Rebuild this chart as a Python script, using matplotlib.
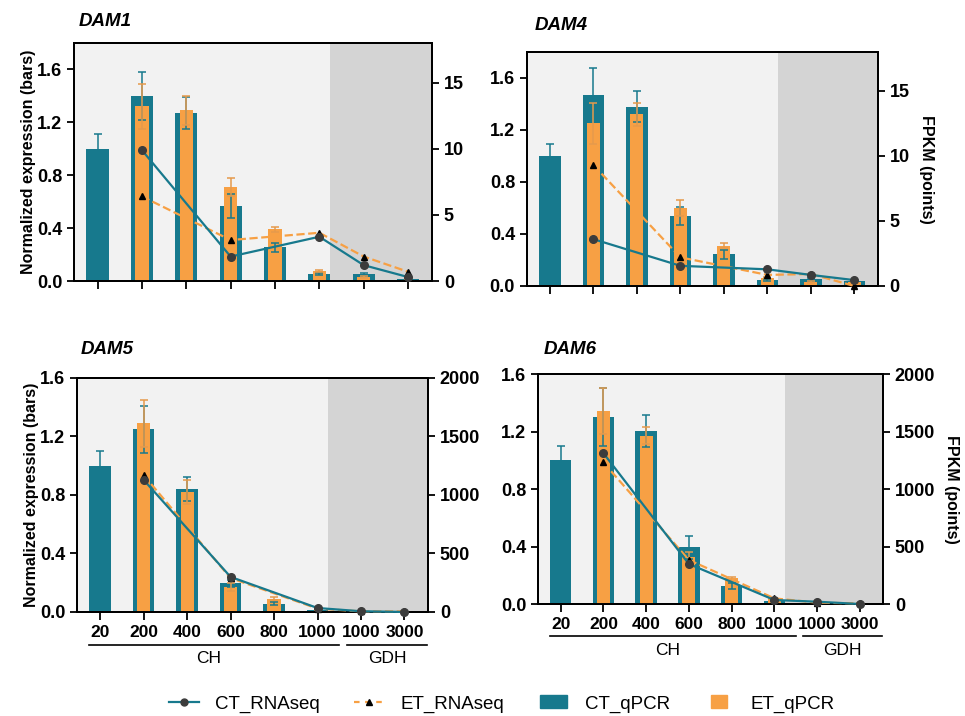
import matplotlib
matplotlib.use("Agg")
import matplotlib.pyplot as plt
import numpy as np
from matplotlib.lines import Line2D
from matplotlib.patches import Rectangle
from matplotlib.legend_handler import HandlerPatch

plt.rcParams['font.family'] = ['Liberation Sans', 'DejaVu Sans']

TEAL = '#17798d'
ORANGE = '#f7a044'

categories = ['20', '200', '400', '600', '800', '1000', '1000', '3000']
seq_idx = [1, 3, 5, 6, 7]   # samples with RNA-seq data

# DAM1
dam1_ct = [1.00, 1.40, 1.27, 0.57, 0.255, 0.053, 0.053, 0.015]
dam1_ct_err = [0.11, 0.18, 0.12, 0.09, 0.035, 0.005, 0.01, 0.005]
dam1_et = [np.nan, 1.32, 1.29, 0.71, 0.39, 0.075, 0.03, 0.01]
dam1_et_err = [np.nan, 0.17, 0.11, 0.07, 0.02, 0.005, 0.005, 0.003]
dam1_ct_seq = [9.9, 1.85, 3.35, 1.2, 0.3]
dam1_et_seq = [6.4, 3.1, 3.65, 1.85, 0.7]

# DAM4
dam4_ct = [1.00, 1.47, 1.38, 0.54, 0.245, 0.046, 0.05, 0.04]
dam4_ct_err = [0.09, 0.21, 0.12, 0.07, 0.035, 0.005, 0.01, 0.005]
dam4_et = [np.nan, 1.25, 1.32, 0.60, 0.31, 0.065, 0.03, 0.03]
dam4_et_err = [np.nan, 0.16, 0.09, 0.06, 0.02, 0.005, 0.005, 0.003]
dam4_ct_seq = [3.6, 1.55, 1.28, 0.85, 0.45]
dam4_et_seq = [9.3, 2.2, 0.85, 0.92, 0.0]

# DAM5
dam5_ct = [1.00, 1.25, 0.84, 0.195, 0.057, 0.016, 0.005, 0.005]
dam5_ct_err = [0.10, 0.16, 0.08, 0.025, 0.01, 0.003, 0.002, 0.002]
dam5_et = [np.nan, 1.29, 0.82, 0.17, 0.09, 0.006, 0.004, 0.004]
dam5_et_err = [np.nan, 0.16, 0.08, 0.03, 0.01, 0.002, 0.002, 0.002]
dam5_ct_seq = [1130, 300, 34, 6, 0]
dam5_et_seq = [1170, 290, 29, 5, 5]

# DAM6
dam6_ct = [1.00, 1.30, 1.205, 0.395, 0.125, 0.023, 0.005, 0.005]
dam6_ct_err = [0.10, 0.20, 0.11, 0.08, 0.02, 0.003, 0.002, 0.002]
dam6_et = [np.nan, 1.34, 1.17, 0.33, 0.18, 0.04, 0.006, 0.004]
dam6_et_err = [np.nan, 0.16, 0.06, 0.03, 0.01, 0.003, 0.002, 0.002]
dam6_ct_seq = [1312, 348, 35, 20, 0]
dam6_et_seq = [1231, 383, 49, 12, 5]

panels = [
    ('DAM1', dam1_ct, dam1_ct_err, dam1_et, dam1_et_err, dam1_ct_seq, dam1_et_seq,
     [0.0767, 0.6075, 0.371, 0.3324], (79, 22), 1.8, 18, [0, 5, 10, 15], True, None, False),
    ('DAM4', dam4_ct, dam4_ct_err, dam4_et, dam4_et_err, dam4_ct_seq, dam4_et_seq,
     [0.546, 0.6006, 0.3637, 0.3268], (535, 25), 1.8, 18, [0, 5, 10, 15], False, 1.16, False),
    ('DAM5', dam5_ct, dam5_ct_err, dam5_et, dam5_et_err, dam5_ct_seq, dam5_et_seq,
     [0.0798, 0.1453, 0.3637, 0.3268], (81, 349), 1.6, 2000, [0, 500, 1000, 1500, 2000], True, None, True),
    ('DAM6', dam6_ct, dam6_ct_err, dam6_et, dam6_et_err, dam6_ct_seq, dam6_et_seq,
     [0.5575, 0.1564, 0.3575, 0.3212], (544, 349), 1.6, 2000, [0, 500, 1000, 1500, 2000], False, 1.22, True),
]

fig = plt.figure(figsize=(9.65, 7.16), dpi=100)
x = np.arange(len(categories))

for (name, ct, ct_err, et, et_err, ct_seq, et_seq, pos, tpos, ymax, y2max, y2ticks,
     left_lab, right_lab, xlab) in panels:
    ax = fig.add_axes(pos)
    ax.set_xlim(-0.53, 7.54)
    ax.set_ylim(0, ymax)
    ax.axvspan(-0.53, 5.25, color='#f2f2f2', zorder=0, lw=0)
    ax.axvspan(5.25, 7.54, color='#d4d4d4', zorder=0, lw=0)

    ax.bar(x, ct, width=0.5, color=TEAL, zorder=2)
    ax.bar(x, et, width=0.3, color=ORANGE, zorder=3)
    ax.errorbar(x, ct, yerr=ct_err, fmt='none', ecolor=TEAL, elinewidth=1.1,
                capsize=3, capthick=1.1, zorder=4)
    ax.errorbar(x, et, yerr=et_err, fmt='none', ecolor='#e59a4c', elinewidth=1.1,
                capsize=3, capthick=1.1, zorder=4)

    yt = np.arange(0, 1.61, 0.4)
    ax.set_yticks(yt)
    ax.set_yticklabels(['%.1f' % v for v in yt], fontsize=13, fontweight='bold')
    ax.set_xticks(x)
    if xlab:
        ax.set_xticklabels(categories, fontsize=12.5, fontweight='bold')
        tr = ax.get_xaxis_transform()
        ax.plot([-0.25, 5.5], [-0.14, -0.14], color='black', lw=1.2,
                transform=tr, clip_on=False)
        ax.plot([5.68, 7.52], [-0.14, -0.14], color='black', lw=1.2,
                transform=tr, clip_on=False)
        ax.text(2.5, -0.2, 'CH', transform=tr, ha='center', va='center', fontsize=12.5)
        ax.text(6.6, -0.2, 'GDH', transform=tr, ha='center', va='center', fontsize=12.5)
    else:
        ax.set_xticklabels([])
    ax.tick_params(axis='both', direction='out', width=1.3, length=5)
    ax.tick_params(axis='x', length=6)
    for s in ax.spines.values():
        s.set_linewidth(1.4)
    if left_lab:
        ax.set_ylabel('Normalized expression (bars)', fontsize=11.5, fontweight='bold')
        ax.yaxis.set_label_coords(-0.107, 0.5)

    ax2 = ax.twinx()
    ax2.set_ylim(0, y2max)
    ax2.set_yticks(y2ticks)
    ax2.set_yticklabels([str(v) for v in y2ticks], fontsize=13, fontweight='bold')
    ax2.tick_params(axis='y', direction='out', width=1.3, length=5)
    for s in ax2.spines.values():
        s.set_linewidth(1.4)
    ax2.plot(seq_idx, et_seq, color=ORANGE, ls='--', lw=1.6, marker='^',
             mfc='black', mec='black', ms=5, zorder=5, clip_on=False)
    ax2.plot(seq_idx, ct_seq, color=TEAL, lw=1.6, marker='o',
             mfc='#3c3c3c', mec='#3c3c3c', ms=5.5, zorder=6, clip_on=False)
    if right_lab:
        ax2.set_ylabel('FPKM (points)', fontsize=11.5, fontweight='bold', rotation=-90)
        ax2.yaxis.set_label_coords(right_lab, 0.5)

    fig.text(tpos[0] / 965, 1 - tpos[1] / 716, name, fontsize=13.5,
             fontweight='bold', style='italic', va='center', ha='left')


def bar_handle(frac, hfrac):
    def make(legend, orig_handle, xdescent, ydescent, width, height, fontsize):
        w = width * frac
        h = height * hfrac
        return Rectangle((-xdescent + (width - w) / 2, -ydescent + (height - h) / 2), w, h)
    return HandlerPatch(patch_func=make)


ct_patch = Rectangle((0, 0), 1, 1, color=TEAL)
et_patch = Rectangle((0, 0), 1, 1, color=ORANGE)
handles = [
    Line2D([], [], color=TEAL, lw=1.6, marker='o', mfc='#3c3c3c', mec='#3c3c3c', ms=5),
    Line2D([], [], color=ORANGE, lw=1.6, ls=(0, (2.5, 2.5)), marker='^', mfc='black', mec='black', ms=5),
    ct_patch,
    et_patch,
]
fig.legend(handles, ['CT_RNAseq', 'ET_RNAseq', 'CT_qPCR', 'ET_qPCR'],
           loc='center', bbox_to_anchor=(0.52, 12 / 716), ncol=4, frameon=False,
           fontsize=13.5, columnspacing=1.8, handlelength=1.6, handletextpad=0.9,
           handler_map={ct_patch: bar_handle(0.9, 1.0), et_patch: bar_handle(0.55, 1.0)})

fig.savefig('out.png', dpi=100)
